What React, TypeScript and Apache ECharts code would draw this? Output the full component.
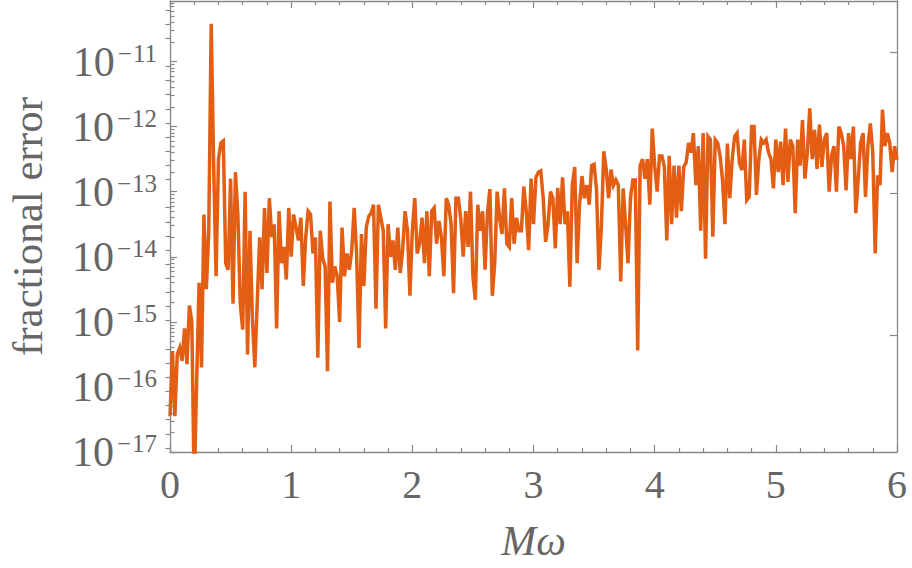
import React, { useEffect, useRef } from "react";
import * as echarts from "echarts";

// M*omega values (x)
const omega = [
  0, 0.02, 0.04, 0.06, 0.08, 0.1, 0.12, 0.14, 0.16, 0.18, 0.2, 0.22, 0.24, 0.26, 0.28, 0.3, 0.32, 0.34, 0.36, 0.38,
  0.4, 0.42, 0.44, 0.46, 0.48, 0.5, 0.52, 0.54, 0.56, 0.58, 0.6, 0.62, 0.64, 0.66, 0.68, 0.7, 0.72, 0.74, 0.76, 0.78,
  0.8, 0.82, 0.84, 0.86, 0.88, 0.9, 0.92, 0.94, 0.96, 0.98, 1, 1.02, 1.04, 1.06, 1.08, 1.1, 1.12, 1.14, 1.16, 1.18,
  1.2, 1.22, 1.24, 1.26, 1.28, 1.3, 1.32, 1.34, 1.36, 1.38, 1.4, 1.42, 1.44, 1.46, 1.48, 1.5, 1.52, 1.54, 1.56, 1.58,
  1.6, 1.62, 1.64, 1.66, 1.68, 1.7, 1.72, 1.74, 1.76, 1.78, 1.8, 1.82, 1.84, 1.86, 1.88, 1.9, 1.92, 1.94, 1.96, 1.98,
  2, 2.02, 2.04, 2.06, 2.08, 2.1, 2.12, 2.14, 2.16, 2.18, 2.2, 2.22, 2.24, 2.26, 2.28, 2.3, 2.32, 2.34, 2.36, 2.38,
  2.4, 2.42, 2.44, 2.46, 2.48, 2.5, 2.52, 2.54, 2.56, 2.58, 2.6, 2.62, 2.64, 2.66, 2.68, 2.7, 2.72, 2.74, 2.76, 2.78,
  2.8, 2.82, 2.84, 2.86, 2.88, 2.9, 2.92, 2.94, 2.96, 2.98, 3, 3.02, 3.04, 3.06, 3.08, 3.1, 3.12, 3.14, 3.16, 3.18,
  3.2, 3.22, 3.24, 3.26, 3.28, 3.3, 3.32, 3.34, 3.36, 3.38, 3.4, 3.42, 3.44, 3.46, 3.48, 3.5, 3.52, 3.54, 3.56, 3.58,
  3.6, 3.62, 3.64, 3.66, 3.68, 3.7, 3.72, 3.74, 3.76, 3.78, 3.8, 3.82, 3.84, 3.86, 3.88, 3.9, 3.92, 3.94, 3.96, 3.98,
  4, 4.02, 4.04, 4.06, 4.08, 4.1, 4.12, 4.14, 4.16, 4.18, 4.2, 4.22, 4.24, 4.26, 4.28, 4.3, 4.32, 4.34, 4.36, 4.38,
  4.4, 4.42, 4.44, 4.46, 4.48, 4.5, 4.52, 4.54, 4.56, 4.58, 4.6, 4.62, 4.64, 4.66, 4.68, 4.7, 4.72, 4.74, 4.76, 4.78,
  4.8, 4.82, 4.84, 4.86, 4.88, 4.9, 4.92, 4.94, 4.96, 4.98, 5, 5.02, 5.04, 5.06, 5.08, 5.1, 5.12, 5.14, 5.16, 5.18,
  5.2, 5.22, 5.24, 5.26, 5.28, 5.3, 5.32, 5.34, 5.36, 5.38, 5.4, 5.42, 5.44, 5.46, 5.48, 5.5, 5.52, 5.54, 5.56, 5.58,
  5.6, 5.62, 5.64, 5.66, 5.68, 5.7, 5.72, 5.74, 5.76, 5.78, 5.8, 5.82, 5.84, 5.86, 5.88, 5.9, 5.92, 5.94, 5.96, 5.98,
  6,
];

// log10 of the fractional error
const log10Error = [
  -16.45, -15.45, -16.45, -15.5, -15.4, -15.6, -15.1, -15.65, -14.75, -15.0, -17.6, -15.9, -14.4, -15.7, -13.35, -14.5, -13.6, -10.42, -12.56, -14.3,
  -12.5, -12.25, -12.22, -14.1, -14.2, -12.8, -14.72, -12.7, -13.35, -14.72, -15.12, -13.0, -15.5, -13.6, -14.95, -15.7, -14.7, -13.7, -14.5, -13.25,
  -14.25, -13.1, -13.7, -13.5, -15.1, -13.3, -14.1, -13.85, -14.35, -13.25, -14.0, -13.35, -13.55, -13.75, -13.4, -14.45, -13.7, -13.3, -13.35, -13.95,
  -13.7, -15.55, -13.6, -14.02, -14.15, -15.76, -13.15, -14.4, -14.15, -14.3, -15.0, -13.55, -14.3, -13.95, -14.2, -13.9, -13.25, -13.95, -15.4, -13.65,
  -14.45, -13.55, -13.38, -13.33, -13.2, -14.8, -13.2, -13.4, -13.6, -15.1, -13.5, -14.0, -13.75, -14.2, -13.55, -14.25, -13.9, -13.3, -13.6, -14.6,
  -13.6, -13.1, -13.95, -13.8, -13.4, -14.1, -13.3, -14.3, -13.3, -13.25, -13.8, -13.45, -13.7, -14.3, -13.1, -13.2, -13.5, -14.56, -13.1, -13.1,
  -13.42, -14.0, -13.3, -13.85, -13.0, -14.3, -14.66, -13.2, -13.6, -13.3, -14.2, -13.33, -12.96, -14.6, -14.1, -13.0, -13.4, -13.65, -12.95, -13.8,
  -13.85, -13.1, -13.8, -13.4, -13.6, -13.6, -12.92, -13.3, -13.9, -12.8, -13.5, -12.78, -12.7, -12.68, -13.1, -13.77, -13.5, -13.0, -13.1, -13.87,
  -12.94, -13.5, -12.78, -13.5, -13.3, -14.46, -12.9, -12.62, -14.1, -13.2, -12.76, -13.1, -12.9, -13.2, -12.6, -12.58, -12.97, -14.2, -13.55, -12.38,
  -12.65, -13.1, -12.66, -12.9, -12.82, -12.9, -14.38, -12.95, -13.5, -14.1, -13.1, -12.82, -12.82, -15.44, -12.6, -12.5, -12.8, -12.5, -13.2, -12.03,
  -12.6, -13.0, -12.45, -12.45, -12.62, -13.75, -12.45, -13.5, -12.6, -13.4, -12.6, -13.3, -12.62, -12.55, -12.25, -12.4, -12.1, -12.9, -12.3, -13.6,
  -12.1, -14.03, -12.15, -12.2, -13.69, -12.2, -12.25, -12.45, -12.82, -13.5, -12.26, -13.1, -12.5, -12.15, -12.1, -12.56, -12.67, -12.2, -13.13, -13.08,
  -12.0, -12.0, -13.05, -12.5, -12.2, -12.25, -12.2, -12.4, -12.5, -12.95, -12.2, -12.7, -12.23, -12.9, -12.03, -12.85, -12.2, -12.3, -13.33, -12.2,
  -12.6, -11.9, -12.8, -12.4, -11.72, -12.5, -12.05, -12.65, -11.97, -12.62, -12.2, -12.1, -13.0, -12.45, -12.3, -13.0, -12.0, -12.1, -12.3, -12.98,
  -12.1, -12.5, -12.0, -13.33, -12.8, -12.25, -12.1, -13.08, -12.3, -11.95, -12.4, -13.95, -12.75, -12.9, -11.74, -12.3, -12.1, -12.25, -12.7, -12.3,
  -12.51,
];

// decade exponents labelled on the y axis
const yLabelExponents = [-17, -16, -15, -14, -13, -12, -11];
const xTickLabels = [0, 1, 2, 3, 4, 5, 6];

const Y_MIN = -17;
const Y_MAX = -10.07;
const GRAY = "#888888";
const TEXT = "#666666";
const LINE = "#E35D13";
const FONT = "Liberation Serif";

export default function App() {
  const ref = useRef<HTMLDivElement>(null);

  useEffect(() => {
    document.body.style.margin = "0";
    const chart = echarts.init(ref.current!, null, { renderer: "svg" });

    const leftMinor: number[] = [];
    for (let n = -17; n <= -11; n++) {
      for (let k = 2; k <= 9; k++) {
        const v = n + Math.log10(k);
        if (v <= Y_MAX) leftMinor.push(v);
      }
    }
    // right frame ticks: natural-log spaced
    const rightMinor: number[] = [];
    const rightMajor: number[] = [];
    for (let L = -39; L <= -23; L += 0.5) {
      const v = L / Math.LN10;
      if (v >= Y_MIN && v <= Y_MAX) {
        if (L % 5 === 0) rightMajor.push(v);
        else rightMinor.push(v);
      }
    }

    const data = omega.map((x, i) => [x, log10Error[i]]);

    const baseX = {
      type: "value" as const,
      min: 0,
      max: 6,
      interval: 1,
      splitLine: { show: false },
      axisLine: { show: true, onZero: false, lineStyle: { color: GRAY, width: 1.3 } },
      axisTick: { show: true, inside: true, length: 7, lineStyle: { color: GRAY, width: 1.2 } },
      minorTick: { show: true, splitNumber: 5, length: 4, lineStyle: { color: GRAY, width: 1.2 } },
    };

    const yCommon = {
      type: "value" as const,
      min: Y_MIN,
      max: Y_MAX,
      splitLine: { show: false },
    };

    const option = {
      animation: false,
      grid: { left: 170, top: 1, right: 15, bottom: 116, containLabel: false, outerBoundsMode: "none" },
      xAxis: [
        {
          ...baseX,
          position: "bottom",
          name: "Mω",
          nameLocation: "middle",
          nameGap: 68,
          nameTextStyle: { fontFamily: FONT, fontStyle: "italic", fontSize: 42, color: TEXT },
          axisLabel: {
            show: true,
            fontFamily: FONT,
            fontSize: 40,
            color: TEXT,
            margin: 12,
            formatter: (v: number) => (xTickLabels.includes(v) ? String(v) : ""),
          },
        },
        {
          ...baseX,
          position: "top",
          axisLabel: { show: false },
        },
      ],
      yAxis: [
        {
          ...yCommon,
          position: "left",
          name: "fractional error",
          nameLocation: "middle",
          nameGap: 121,
          nameTextStyle: { fontFamily: FONT, fontSize: 43, color: TEXT },
          axisLine: { show: true, onZero: false, lineStyle: { color: GRAY, width: 1.3 } },
          axisTick: {
            show: true,
            inside: true,
            length: 7,
            customValues: yLabelExponents,
            lineStyle: { color: GRAY, width: 1.2 },
          },
          axisLabel: {
            show: true,
            customValues: yLabelExponents,
            margin: 13,
            formatter: (v: number) => `{b|10}{m|−}{s|${Math.abs(Math.round(v))}}`,
            rich: {
              b: { fontFamily: FONT, fontSize: 42, color: TEXT, verticalAlign: "middle", lineHeight: 42 },
              m: { fontFamily: FONT, fontSize: 25, color: TEXT, verticalAlign: "top", lineHeight: 22, padding: [0, 1, 0, 3] },
              s: { fontFamily: FONT, fontSize: 25, color: TEXT, verticalAlign: "top", lineHeight: 22 },
            },
          },
        },
        {
          ...yCommon,
          position: "left",
          axisLine: { show: false },
          axisTick: {
            show: true,
            inside: true,
            length: 4.5,
            customValues: leftMinor,
            lineStyle: { color: GRAY, width: 1.2 },
          },
          axisLabel: { show: false },
        },
        {
          ...yCommon,
          position: "right",
          axisLine: { show: true, onZero: false, lineStyle: { color: GRAY, width: 1.3 } },
          axisTick: {
            show: true,
            inside: true,
            length: 7,
            customValues: rightMajor,
            lineStyle: { color: GRAY, width: 1.2 },
          },
          axisLabel: { show: false },
        },
        {
          ...yCommon,
          position: "right",
          axisLine: { show: false },
          axisTick: {
            show: true,
            inside: true,
            length: 4.5,
            customValues: rightMinor,
            lineStyle: { color: GRAY, width: 1.2 },
          },
          axisLabel: { show: false },
        },
      ],
      series: [
        {
          type: "line",
          xAxisIndex: 0,
          yAxisIndex: 0,
          data,
          showSymbol: false,
          symbol: "none",
          clip: true,
          lineStyle: { color: LINE, width: 3.5, join: "miter" },
        },
      ],
    };

    chart.setOption(option as any);
    return () => chart.dispose();
  }, []);

  return <div ref={ref} style={{ width: 912, height: 568 }} />;
}
